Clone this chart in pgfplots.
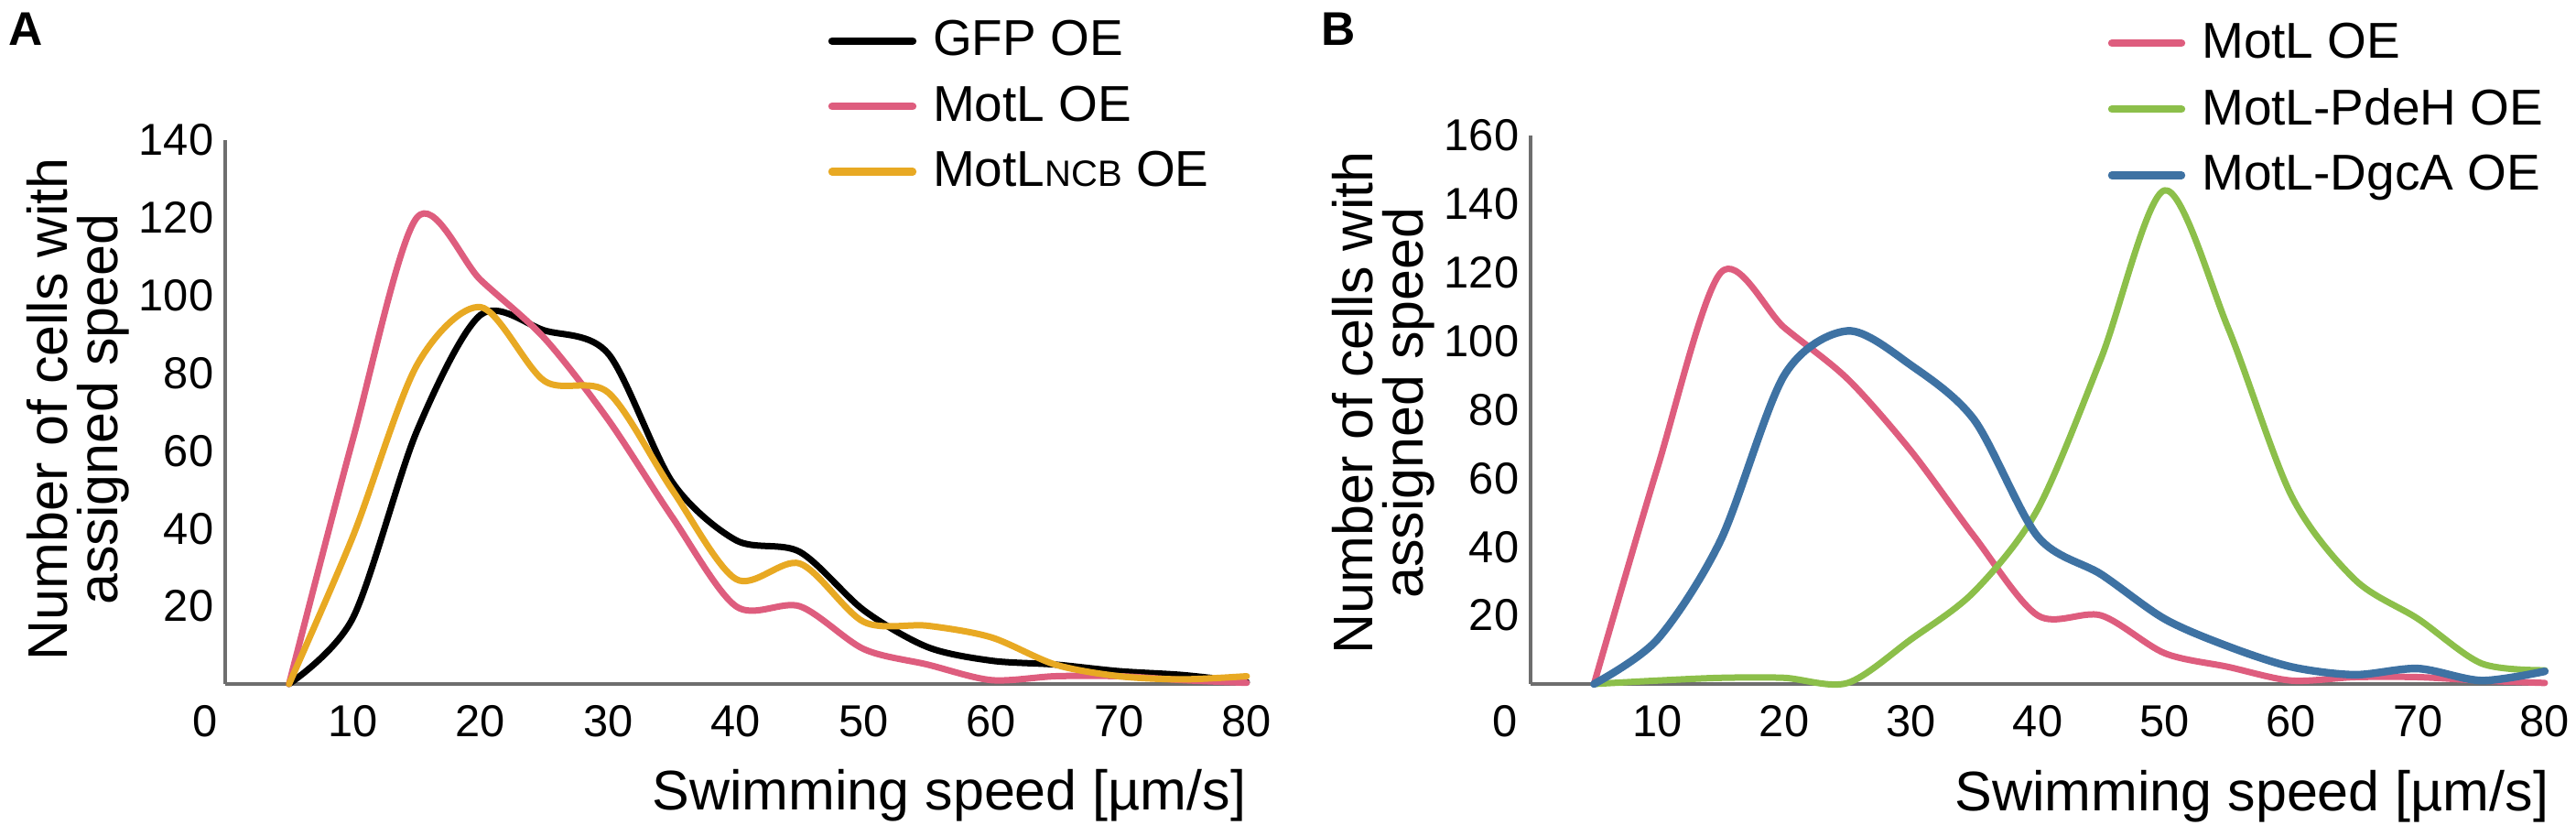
\documentclass[border=0pt]{standalone}
\usepackage{fontspec}
\setmainfont{Liberation Sans}
\usepackage{pgfplots}
\pgfplotsset{compat=1.18}
\definecolor{pinkc}{HTML}{DE5D7E}
\definecolor{yellowc}{HTML}{E8A923}
\definecolor{greenc}{HTML}{8CBF4A}
\definecolor{bluec}{HTML}{3E72A3}
\definecolor{axisgray}{HTML}{6E6E6E}
\pgfplotsset{
  myaxis/.style={
    scale only axis,
    anchor=south west,
    xmin=0, xmax=80, ymin=0,
    axis x line*=bottom, axis y line*=left,
    axis line style={draw=axisgray, line width=1pt, -},
    xtick={10,20,...,80},
    extra x ticks={0},
    major tick length=0pt,
    tick style={draw=none},
    /pgf/number format/assume math mode=true,
    ticklabel style={font=\fontsize{12.2}{12}\selectfont, inner sep=0pt},
    yticklabel style={anchor=east, xshift=-3pt},
    xticklabel style={anchor=north, yshift=-5.6pt},
    clip=false,
    every axis plot/.append style={smooth, line width=1.75pt, line join=round, line cap=round, mark=none},
    legend cell align=left,
    legend image code/.code={\draw[#1, line width=2.1pt, line cap=round] (0pt,0pt) -- (22pt,0pt);},
    ylabel={Number of cells with\\assigned speed},
    xlabel={Swimming speed [µm/s]},
    xlabel style={anchor=base east, inner sep=0pt, font=\fontsize{15.25}{16}\selectfont},
    ylabel style={anchor=center, align=center, inner sep=0pt, font=\fontsize{15.25}{13.75}\selectfont},
  }
}
\begin{document}
\begin{tikzpicture}
\path[use as bounding box] (0,0) rectangle (703.5pt,225pt);
\node[anchor=north west, inner sep=0pt, font=\bfseries\fontsize{12.9}{13}\selectfont] at (2.25pt,221.75pt) {A};
\node[anchor=north west, inner sep=0pt, font=\bfseries\fontsize{12.9}{13}\selectfont] at (360.75pt,221.75pt) {B};

\begin{axis}[myaxis,
  at={(61.5pt,38.25pt)}, width=279pt, height=148.5pt,
  ymax=140, ytick={20,40,...,140},
  extra x tick style={xticklabel style={xshift=-5.5pt}},
  xlabel style={at={(axis description cs:1,-0.2323)}},
  ylabel style={at={(axis description cs:-0.1443,0.505)}},
  legend style={draw=none, fill=none, at={(0.5896,1.062)}, anchor=west, inner sep=0pt,
    column sep=4.5pt, row sep=6.75pt,
    nodes={inner sep=0pt, font=\fontsize{13.75}{14}\selectfont}},
]
\addplot[black] coordinates {(5,0) (10,17) (15,65) (20,95) (25,91) (30,85) (35,52) (40,37) (45,34) (50,19) (55,9.5) (60,6) (65,5) (70,3.3) (75,2.3) (80,0.5)};
\addlegendentry{GFP OE}
\addplot[pinkc] coordinates {(5,0) (10,63) (15,120) (20,104) (25,89) (30,68) (35,43) (40,20) (45,20) (50,9) (55,5) (60,1) (65,2) (70,2) (75,1) (80,0.3)};
\addlegendentry{MotL OE}
\addplot[yellowc] coordinates {(5,0) (10,38) (15,82) (20,97) (25,78) (30,75) (35,50) (40,27) (45,31) (50,16) (55,15) (60,12) (65,5) (70,2) (75,1.2) (80,2)};
\addlegendentry{MotL{\fontsize{10}{10}\selectfont NCB} OE}
\end{axis}

\begin{axis}[myaxis,
  at={(418pt,38.25pt)}, width=277pt, height=149.75pt,
  ymax=160, ytick={20,40,...,160},
  extra x tick style={xticklabel style={xshift=-7pt}},
  xlabel style={at={(axis description cs:1.0045,-0.2304)}},
  ylabel style={at={(axis description cs:-0.1453,0.5125)}},
  legend style={draw=none, fill=none, at={(0.5686,1.048)}, anchor=west, inner sep=0pt,
    column sep=4.5pt, row sep=6.75pt,
    nodes={inner sep=0pt, font=\fontsize{13.75}{14}\selectfont}},
  legend image code/.code={\draw[#1, line width=2.1pt, line cap=round] (0pt,0pt) -- (19pt,0pt);},
]
\addplot[pinkc] coordinates {(5,0) (10,63) (15,120) (20,104) (25,89) (30,68) (35,43) (40,20) (45,20) (50,9) (55,5) (60,1) (65,2) (70,2) (75,1) (80,0.3)};
\addlegendentry{MotL OE}
\addplot[greenc] coordinates {(5,0) (10,1) (15,1.8) (20,1.8) (25,0.3) (30,13) (35,27) (40,51) (45,95) (50,144) (55,104) (60,55) (65,30.5) (70,19) (75,6) (80,4)};
\addlegendentry{MotL-PdeH OE}
\addplot[bluec, line width=2.1pt] coordinates {(5,0) (10,13) (15,42) (20,90) (25,103) (30,93) (35,77) (40,43) (45,32) (50,19) (55,11) (60,5) (65,2.7) (70,4.5) (75,1) (80,3.7)};
\addlegendentry{MotL-DgcA OE}
\end{axis}
\end{tikzpicture}
\end{document}
